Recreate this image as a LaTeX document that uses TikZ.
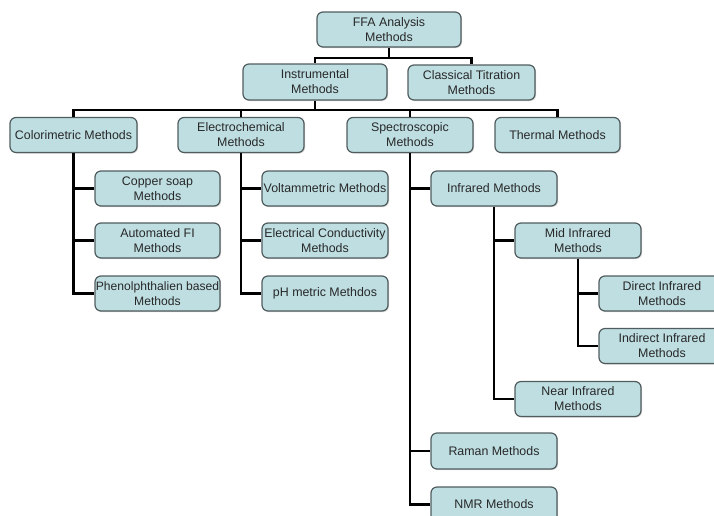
\documentclass[tikz,border=0pt]{standalone}
\usepackage{fontspec}
\setmainfont{Liberation Sans}
\usetikzlibrary{shadows}
\definecolor{boxfill}{RGB}{190,222,226}
\definecolor{boxdraw}{RGB}{80,92,94}
\definecolor{txt}{RGB}{40,40,40}
\begin{document}
\begin{tikzpicture}[x=0.75pt,y=-0.75pt,
  mbox/.style={draw=boxdraw, line width=0.9pt, fill=boxfill, rounded corners=4.5pt,
    minimum width=126*0.75pt, minimum height=35*0.75pt, inner sep=1pt,
    align=center, text=txt,
    font=\fontsize{9.3}{11.2}\selectfont,
    drop shadow={shadow xshift=0.8pt, shadow yshift=-0.8pt, opacity=0.35, fill=gray}},
  link/.style={line width=2pt, black}]
\useasboundingbox (0,0) rectangle (714,515);
% boxes
\node[mbox, minimum width=144*0.75pt] (ffa) at (389,29.5) {FFA Analysis\\Methods};
\node[mbox, minimum width=144*0.75pt, minimum height=36*0.75pt] (instr) at (315,82) {Instrumental\\Methods};
\node[mbox, minimum width=127*0.75pt] (class) at (471.5,82.5) {Classical Titration\\Methods};
\node[mbox, minimum width=127*0.75pt] (color) at (73.5,135) {Colorimetric Methods};
\node[mbox] (electro) at (241,135) {Electrochemical\\Methods};
\node[mbox] (spectro) at (410,135) {Spectroscopic\\Methods};
\node[mbox, minimum width=125*0.75pt] (thermal) at (557.5,135) {Thermal Methods};
\node[mbox, minimum width=125*0.75pt] (copper) at (157.5,188.5) {Copper soap\\Methods};
\node[mbox, minimum width=125*0.75pt] (autofi) at (157.5,240.5) {Automated FI\\Methods};
\node[mbox, minimum width=125*0.75pt, inner xsep=0pt, font=\fontsize{9.1}{11.2}\selectfont] (phen) at (157.5,293.5) {Phenolphthalien based\\Methods};
\node[mbox] (volt) at (325,188.5) {Voltammetric Methods};
\node[mbox] (cond) at (325,240.5) {Electrical Conductivity\\Methods};
\node[mbox] (ph) at (325,293.5) {pH metric Methdos};
\node[mbox] (ir) at (494,188.5) {Infrared Methods};
\node[mbox] (mir) at (578,240.5) {Mid Infrared\\Methods};
\node[mbox] (dir) at (662,293.5) {Direct Infrared\\Methods};
\node[mbox] (indir) at (662,346) {Indirect Infrared\\Methods};
\node[mbox] (nir) at (578,399) {Near Infrared\\Methods};
\node[mbox, minimum height=36*0.75pt] (raman) at (494,451) {Raman Methods};
\node[mbox] (nmr) at (494,504.5) {NMR Methods};
% bus coordinates
\coordinate (b1) at (0,58);
\coordinate (b2) at (0,110);
% connectors
\draw[link] (ffa.south) -- (ffa.south |- b1);
\draw[link] (instr.north) -- (instr.north |- b1) -- (class.north |- b1) -- (class.north);
\draw[link] (instr.south) -- (instr.south |- b2);
\draw[link] (color.north) -- (color.north |- b2) -- (thermal.north |- b2) -- (thermal.north);
\draw[link] (electro.north) -- (electro.north |- b2);
\draw[link] (spectro.north) -- (spectro.north |- b2);
\draw[link] (color.south) |- (phen.west);
\draw[link] (color.south |- copper.west) -- (copper.west);
\draw[link] (color.south |- autofi.west) -- (autofi.west);
\draw[link] (electro.south) |- (ph.west);
\draw[link] (electro.south |- volt.west) -- (volt.west);
\draw[link] (electro.south |- cond.west) -- (cond.west);
\draw[link] (spectro.south) |- (nmr.west);
\draw[link] (spectro.south |- ir.west) -- (ir.west);
\draw[link] (spectro.south |- raman.west) -- (raman.west);
\draw[link] (ir.south) |- (nir.west);
\draw[link] (ir.south |- mir.west) -- (mir.west);
\draw[link] (mir.south) |- (indir.west);
\draw[link] (mir.south |- dir.west) -- (dir.west);
\end{tikzpicture}
\end{document}
